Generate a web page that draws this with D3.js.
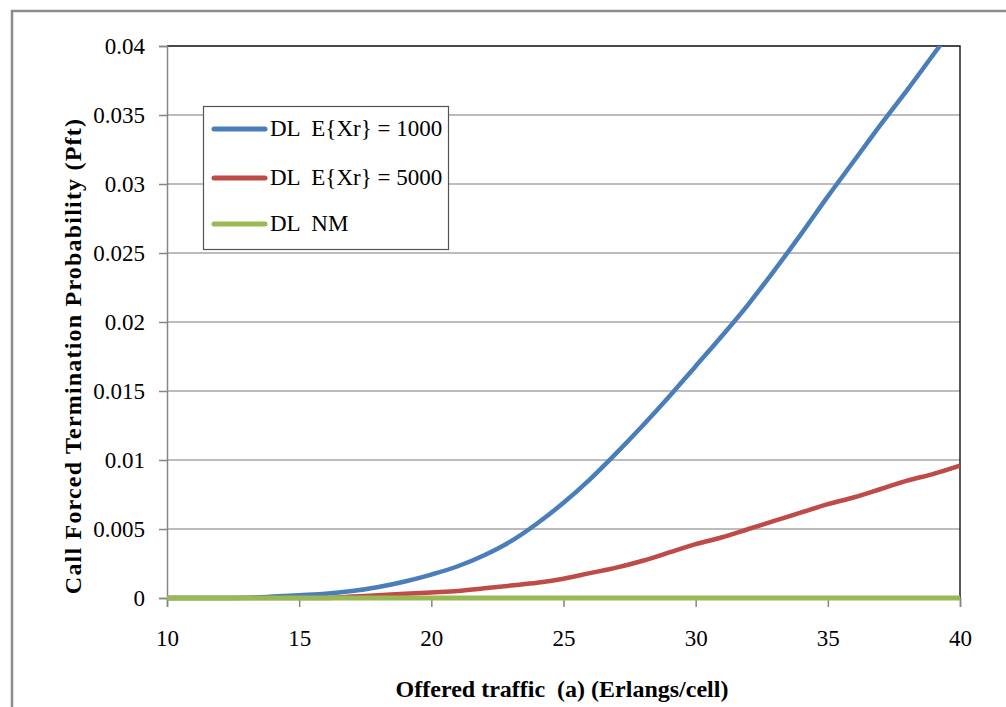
<!DOCTYPE html>
<html>
<head>
<meta charset="utf-8">
<script src="https://cdn.jsdelivr.net/npm/d3@7"></script>
<style>
  html, body { margin: 0; padding: 0; background: #fff; }
  svg { display: block; }
  text { font-family: "Liberation Serif", "Times New Roman", Times, serif; fill: #000; }
</style>
</head>
<body>
<svg id="chart" width="1006" height="707"></svg>
<script>
// ---- data ----
const traffic = [10,11,12,13,14,15,16,17,18,19,20,21,22,23,24,25,26,27,28,29,30,31,32,33,34,35,36,37,38,39,40];
const pftXr1000 = [0,0,0,0.00002,0.0001,0.0002,0.0003,0.0005,0.0008,0.0012,0.0017,0.0023,0.0031,0.0041,0.0054,0.0069,0.0086,0.0105,0.0125,0.0146,0.0168,0.0190,0.0213,0.0238,0.0264,0.0291,0.0317,0.0343,0.0368,0.0394,0.0420];
const pftXr5000 = [0,0,0,0,0,0,0,0.0001,0.0002,0.0003,0.0004,0.0005,0.0007,0.0009,0.0011,0.0014,0.0018,0.0022,0.0027,0.0033,0.0039,0.0044,0.0050,0.0056,0.0062,0.0068,0.0073,0.0079,0.0085,0.0090,0.0096];
const pftNM = [0,0,0,0,0,0,0,0,0,0,0,0,0,0,0,0,0,0,0,0,0,0,0,0,0,0,0,0,0,0,0];
const seriesNames = ["DL  E{Xr} = 1000", "DL  E{Xr} = 5000", "DL  NM"];
const seriesColors = ["#4a7ebb", "#be4b48", "#98b954"];
const xTicks = [10, 15, 20, 25, 30, 35, 40];
const yTicks = [0, 0.005, 0.01, 0.015, 0.02, 0.025, 0.03, 0.035, 0.04];
const yTickLabels = ["0", "0.005", "0.01", "0.015", "0.02", "0.025", "0.03", "0.035", "0.04"];
const xTitle = "Offered traffic  (a) (Erlangs/cell)";
const yTitle = "Call Forced Termination Probability (Pft)";

// ---- layout ----
const FONT = '"Liberation Serif", "Times New Roman", Times, serif';
const svg = d3.select("#chart");
const L = 167, R = 960, T = 46, B = 598;

// outer frame
svg.append("path")
  .attr("d", "M12,707 L12,11 L1006,11")
  .attr("fill", "none").attr("stroke", "#8c8c8c").attr("stroke-width", 2.5);

const x = d3.scaleLinear().domain([10, 40]).range([L, R]);
const y = d3.scaleLinear().domain([0, 0.04]).range([B, T]);

// gridlines
svg.append("g").selectAll("line").data(yTicks.filter(d => d > 0)).join("line")
  .attr("x1", L).attr("x2", R)
  .attr("y1", d => y(d)).attr("y2", d => y(d))
  .attr("stroke", "#a6a6a6").attr("stroke-width", 1.5);

// plot border (top/right black)
svg.append("path")
  .attr("d", `M${L},${T} L${R},${T} L${R},${B}`)
  .attr("fill", "none").attr("stroke", "#222").attr("stroke-width", 1.5);

// y axis
const yAxis = d3.axisLeft(y).tickValues(yTicks)
  .tickFormat((d, i) => yTickLabels[i]).tickSize(8).tickPadding(14);
const gy = svg.append("g").attr("transform", `translate(${L},0)`).call(yAxis)
  .attr("font-family", FONT).attr("font-size", 23);
gy.select(".domain").attr("stroke", "#868686").attr("stroke-width", 1.5);
gy.selectAll(".tick line").attr("stroke", "#868686").attr("stroke-width", 1.5);
gy.selectAll(".tick text").attr("fill", "#000");

// x axis
const xAxis = d3.axisBottom(x).tickValues(xTicks).tickSize(9).tickPadding(23);
const gx = svg.append("g").attr("transform", `translate(0,${B})`).call(xAxis)
  .attr("font-family", FONT).attr("font-size", 23);
gx.select(".domain").attr("stroke", "#868686").attr("stroke-width", 1.5);
gx.selectAll(".tick line").attr("stroke", "#868686").attr("stroke-width", 1.5);
gx.selectAll(".tick text").attr("fill", "#000");

// clip
svg.append("clipPath").attr("id", "clip").append("rect")
  .attr("x", L - 5).attr("y", T).attr("width", R - L + 10).attr("height", B - T + 10);

const allSeries = [pftXr1000, pftXr5000, pftNM];
const line = d3.line().x((d, i) => x(traffic[i])).y(d => y(d)).curve(d3.curveMonotoneX);
const lines = svg.append("g").attr("clip-path", "url(#clip)");
[0, 1, 2].forEach(k => {
  lines.append("path").datum(allSeries[k])
    .attr("d", line)
    .attr("fill", "none")
    .attr("stroke", seriesColors[k])
    .attr("stroke-width", k === 2 ? 5 : 4.5)
    .attr("stroke-linejoin", "round");
});

// legend
const lg = svg.append("g");
lg.append("rect").attr("x", 203.5).attr("y", 106.5).attr("width", 245).attr("height", 143)
  .attr("fill", "#fff").attr("stroke", "#555").attr("stroke-width", 1.2);
const rowY = [129, 178, 224];
seriesNames.forEach((name, i) => {
  lg.append("line").attr("x1", 214).attr("x2", 265).attr("y1", rowY[i]).attr("y2", rowY[i])
    .attr("stroke", seriesColors[i]).attr("stroke-width", 5).attr("stroke-linecap", "round");
  lg.append("text").attr("x", 270).attr("y", rowY[i] + 7)
    .attr("font-family", FONT).style("font-size", "23px").style("white-space", "pre").text(name);
});

// axis titles
svg.append("text").attr("x", 562).attr("y", 697).attr("text-anchor", "middle")
  .style("font-size", "24px").style("font-weight", "bold").style("white-space", "pre").text(xTitle);
svg.append("text").attr("transform", "translate(81,356) rotate(-90)").attr("text-anchor", "middle")
  .style("font-size", "24px").style("font-weight", "bold").style("letter-spacing", "1.2px").text(yTitle);
</script>
</body>
</html>
